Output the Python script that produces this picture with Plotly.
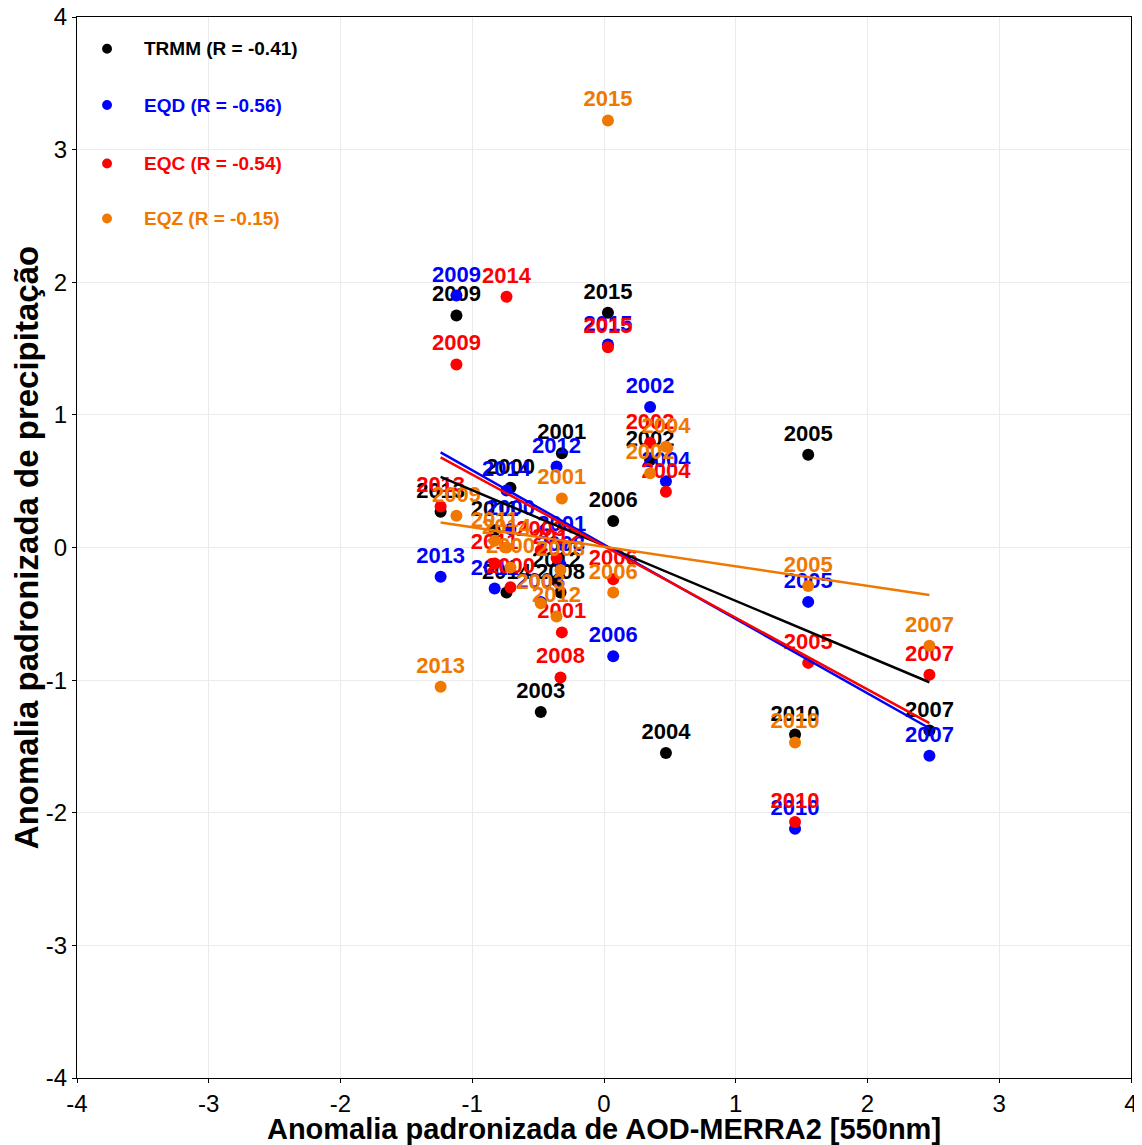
import numpy as np
import plotly.graph_objects as go

years = [2000, 2001, 2002, 2003, 2004, 2005, 2006, 2007, 2008, 2009, 2010, 2011, 2012, 2013, 2014, 2015]
aod = [-0.71, -0.32, 0.35, -0.48, 0.47, 1.55, 0.07, 2.47, -0.33, -1.12, 1.45, -0.83, -0.36, -1.24, -0.74, 0.03]
trmm = [0.45, 0.71, 0.66, -1.24, -1.55, 0.70, 0.20, -1.38, -0.34, 1.75, -1.41, 0.13, -0.25, 0.27, -0.34, 1.77]
eqd = [0.14, 0.02, 1.06, -0.41, 0.50, -0.41, -0.82, -1.57, -0.13, 1.90, -2.12, -0.31, 0.61, -0.22, 0.43, 1.53]
eqc = [-0.30, -0.64, 0.79, -0.02, 0.42, -0.87, -0.24, -0.96, -0.98, 1.38, -2.07, -0.12, -0.08, 0.31, 1.89, 1.51]
eqz = [-0.15, 0.37, 0.56, -0.42, 0.76, -0.29, -0.34, -0.74, -0.17, 0.24, -1.47, 0.05, -0.52, -1.05, 0.00, 3.22]

tick_vals = [-4, -3, -2, -1, 0, 1, 2, 3, 4]
tick_text = ["-4", "-3", "-2", "-1", "0", "1", "2", "3", "4"]

series_names = ["TRMM", "EQD", "EQC", "EQZ"]
series_r = ["-0.41", "-0.56", "-0.54", "-0.15"]
series_vals = [trmm, eqd, eqc, eqz]
colors = ["#000000", "#0000FF", "#FF0000", "#F07800"]

FONT = "Liberation Sans, Arial, Helvetica, sans-serif"

fig = go.Figure()
x = np.array(aod)
for name, vals, col in zip(series_names, series_vals, colors):
    fig.add_trace(go.Scatter(
        x=aod, y=vals, mode="markers+text", name=name,
        text=[str(y) for y in years], textposition="top center",
        textfont=dict(family=FONT, size=22, color=col, weight="bold"),
        marker=dict(color=col, size=12), showlegend=False, cliponaxis=False))

for name, vals, col in zip(series_names, series_vals, colors):
    m, b = np.polyfit(x, np.array(vals), 1)
    xs = np.array([x.min(), x.max()])
    fig.add_trace(go.Scatter(x=xs, y=m * xs + b, mode="lines",
                             line=dict(color=col, width=2.5), showlegend=False,
                             hoverinfo="skip"))

# legend drawn manually
leg_y = [0.970, 0.917, 0.862, 0.810]
shapes = []
annotations = []
for i, (name, r, col) in enumerate(zip(series_names, series_r, colors)):
    yc = leg_y[i]
    annotations.append(dict(
        x=0.062, y=yc, xref="paper", yref="paper", xanchor="left", yanchor="middle",
        text=f"<b>{name} (R = {r})</b>", showarrow=False,
        font=dict(family=FONT, size=19, color=col)))
    shapes.append(dict(type="circle", xref="paper", yref="paper",
                       x0=0.0285 - 0.0047, x1=0.0285 + 0.0047,
                       y0=yc - 0.0047, y1=yc + 0.0047,
                       fillcolor=col, line=dict(color=col, width=0)))

axis_common = dict(
    range=[-4, 4], tickmode="array", tickvals=tick_vals, ticktext=tick_text,
    showgrid=True, gridcolor="#EBEBEB", gridwidth=1, automargin=False,
    zeroline=False, showline=True, linecolor="black", linewidth=1.2, mirror=True,
    ticks="outside", ticklen=4, tickcolor="black", ticklabeloverflow="allow",
    tickfont=dict(family=FONT, size=24, color="black"),
)

fig.update_layout(
    width=1134, height=1137,
    margin=dict(l=69, r=11, t=9, b=67),
    plot_bgcolor="white", paper_bgcolor="white",
    xaxis=dict(**axis_common,
               title=dict(text="<b>Anomalia padronizada de AOD-MERRA2 [550nm]</b>",
                          font=dict(family=FONT, size=29, color="black"), standoff=0)),
    yaxis=dict(**axis_common,
               title=dict(text="<b>Anomalia padronizada de precipitação</b>",
                          font=dict(family=FONT, size=33, color="black"), standoff=0)),
    shapes=shapes, annotations=annotations,
    showlegend=False,
)

fig.write_html("out.html")
